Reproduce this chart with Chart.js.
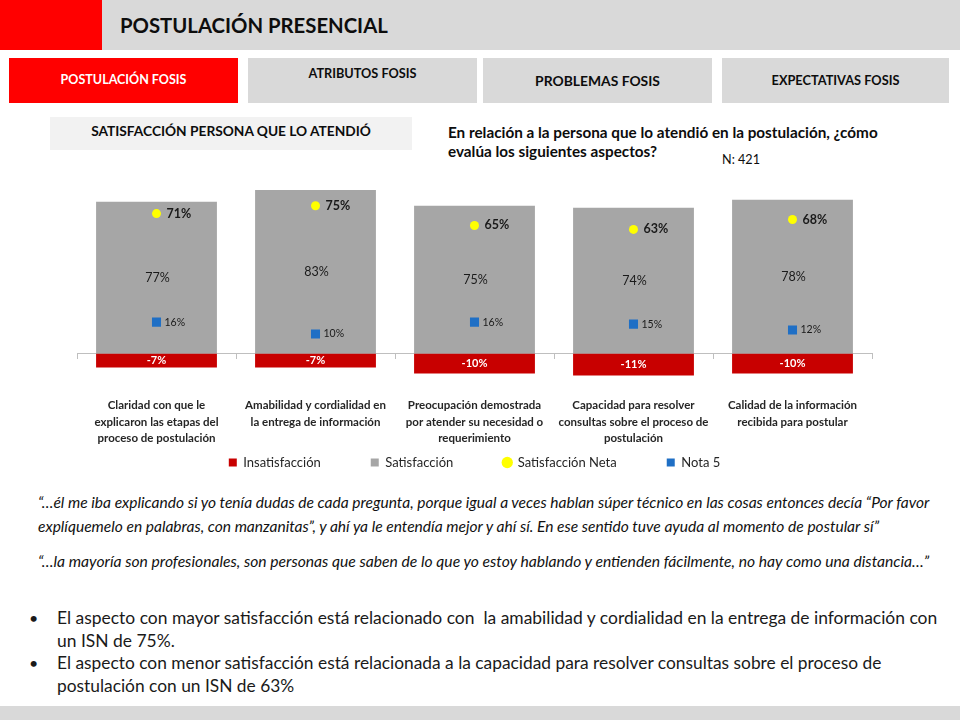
<!DOCTYPE html>
<html>
<head>
<meta charset="utf-8">
<script src="https://cdn.jsdelivr.net/npm/chart.js@4.4.1/dist/chart.umd.min.js"></script>
<style>
  html,body{margin:0;padding:0;}
  body{width:960px;height:720px;position:relative;overflow:hidden;background:#fff;font-family:Lato,"Noto Sans",sans-serif;color:#000;}
  .box{position:absolute;}
  .t{position:absolute;white-space:pre;line-height:1;transform:translateY(-50%);}
  .c{transform:translate(-50%,-50%);}
  .b{font-weight:bold;}
  .q{font-style:italic;font-weight:400;color:#111;}
  #chartWrap{position:absolute;left:0;top:150px;width:960px;height:329px;}
</style>
</head>
<body>
  <!-- header -->
  <div class="box" style="left:0;top:0;width:102px;height:50px;background:#ff0000;"></div>
  <div class="box" style="left:102px;top:0;width:858px;height:50px;background:#d9d9d9;"></div>
  <span class="t b" id="title" style="left:120px;top:25px;font-size:20px;color:#0d0d0d;">POSTULACIÓN PRESENCIAL</span>

  <!-- tabs -->
  <div class="box" style="left:9px;top:58px;width:229px;height:45px;background:#ff0000;"></div>
  <div class="box" style="left:248px;top:58px;width:229px;height:45px;background:#d9d9d9;"></div>
  <div class="box" style="left:483px;top:58px;width:229px;height:45px;background:#d9d9d9;"></div>
  <div class="box" style="left:722px;top:58px;width:227px;height:45px;background:#d9d9d9;"></div>
  <span class="t c b" id="tab1" style="left:123.5px;top:80px;font-size:12px;color:#fff;">POSTULACIÓN FOSIS</span>
  <span class="t c b" id="tab2" style="left:362.5px;top:73px;font-size:12px;color:#0d0d0d;">ATRIBUTOS FOSIS</span>
  <span class="t c b" id="tab3" style="left:597.5px;top:81px;font-size:13px;color:#0d0d0d;">PROBLEMAS FOSIS</span>
  <span class="t c b" id="tab4" style="left:835.5px;top:80px;font-size:12px;color:#0d0d0d;">EXPECTATIVAS FOSIS</span>

  <!-- subtitle & question -->
  <div class="box" style="left:50px;top:117px;width:362px;height:33px;background:#f2f2f2;"></div>
  <span class="t c b" id="sub" style="left:231px;top:131px;font-size:13px;color:#0d0d0d;">SATISFACCIÓN PERSONA QUE LO ATENDIÓ</span>
  <span class="t b" id="qa" style="left:448px;top:133px;font-size:13px;color:#0d0d0d;">En relación a la persona que lo atendió en la postulación, ¿cómo</span>
  <span class="t b" id="qb" style="left:448px;top:152px;font-size:13px;color:#0d0d0d;">evalúa los siguientes aspectos?</span>
  <span class="t" id="nn" style="left:722px;top:160px;font-size:11px;color:#0d0d0d;">N: 421</span>

  <!-- chart -->
  <div id="chartWrap"><canvas id="chart" width="960" height="329"></canvas></div>

  <!-- quotes -->
  <span class="t q" id="q1a" style="left:38px;top:503px;font-size:14px;">“…él me iba explicando si yo tenía dudas de cada pregunta, porque igual a veces hablan súper técnico en las cosas entonces decía “Por favor</span>
  <span class="t q" id="q1b" style="left:38px;top:527px;font-size:14px;">explíquemelo en palabras, con manzanitas”, y ahí ya le entendía mejor y ahí sí. En ese sentido tuve ayuda al momento de postular sí”</span>
  <span class="t q" id="q2" style="left:38px;top:562px;font-size:14px;">“…la mayoría son profesionales, son personas que saben de lo que yo estoy hablando y entienden fácilmente, no hay como una distancia…”</span>

  <!-- bullets -->
  <span class="t" style="left:29px;top:618px;font-size:16px;color:#1a1a1a;">•</span>
  <span class="t" style="left:29px;top:663px;font-size:16px;color:#1a1a1a;">•</span>
  <span class="t" id="b1a" style="left:57px;top:618px;font-size:16px;color:#1a1a1a;">El aspecto con mayor satisfacción está relacionado con  la amabilidad y cordialidad en la entrega de información con</span>
  <span class="t" id="b1b" style="left:57px;top:641px;font-size:16px;color:#1a1a1a;">un ISN de 75%.</span>
  <span class="t" id="b2a" style="left:57px;top:663px;font-size:16px;color:#1a1a1a;">El aspecto con menor satisfacción está relacionada a la capacidad para resolver consultas sobre el proceso de</span>
  <span class="t" id="b2b" style="left:57px;top:686px;font-size:16px;color:#1a1a1a;">postulación con un ISN de 63%</span>

  <!-- footer -->
  <div class="box" style="left:0;top:706px;width:960px;height:14px;background:#d9d9d9;"></div>

<script>
// ---------- data ----------
const categories = [
  ["Claridad con que le", "explicaron las etapas del", "proceso de postulación"],
  ["Amabilidad y cordialidad en", "la entrega de información"],
  ["Preocupación demostrada", "por atender su necesidad o", "requerimiento"],
  ["Capacidad para resolver", "consultas sobre el proceso de", "postulación"],
  ["Calidad de la información", "recibida para postular"]
];
const insatisfaccion   = [-7, -7, -10, -11, -10];
const satisfaccion     = [77, 83, 75, 74, 78];
const satisfaccionNeta = [71, 75, 65, 63, 68];
const nota5            = [16, 10, 16, 15, 12];
const seriesNames = ["Insatisfacción", "Satisfacción", "Satisfacción Neta", "Nota 5"];

// ---------- text width fitting (layout only) ----------
function fitWidth(id, target, others) {
  const el = document.getElementById(id);
  const w = el.getBoundingClientRect().width;
  const fs = parseFloat(getComputedStyle(el).fontSize);
  const nfs = fs * target / w;
  el.style.fontSize = nfs + 'px';
  (others || []).forEach(o => document.getElementById(o).style.fontSize = nfs + 'px');
}
fitWidth('title', 268);
fitWidth('tab1', 126);
fitWidth('tab2', 108);
fitWidth('tab3', 125);
fitWidth('tab4', 128);
fitWidth('sub', 280);
fitWidth('qa', 430, ['qb']);
fitWidth('nn', 38);
fitWidth('q1a', 892, ['q1b']);
fitWidth('q2', 892);
fitWidth('b1a', 881, ['b1b']);
fitWidth('b2a', 825, ['b2b']);

// ---------- chart ----------
Chart.defaults.font.family = 'Lato';
Chart.defaults.color = '#262626';

const RED = '#c80000', GRAY = '#a6a6a6', YEL = '#ffff00', BLUE = '#1f6fc5';

const valueLabels = {
  id: 'valueLabels',
  afterDatasetsDraw(chart) {
    const ctx = chart.ctx;
    ctx.save();
    ctx.textBaseline = 'middle';
    chart.data.datasets.forEach((ds, di) => {
      const meta = chart.getDatasetMeta(di);
      meta.data.forEach((el, j) => {
        const txt = ds.data[j] + '%';
        if (di === 0) {
          ctx.font = 'bold 11px Lato';
          ctx.fillStyle = '#ffffff';
          ctx.textAlign = 'center';
          ctx.fillText(txt, el.x, (el.y + el.base) / 2);
        } else if (di === 1) {
          ctx.font = '12.5px Lato';
          ctx.fillStyle = '#1a1a1a';
          ctx.textAlign = 'center';
          ctx.fillText(txt, el.x + 1, (el.y + el.base) / 2);
        } else if (di === 2) {
          ctx.font = 'bold 12.5px Lato';
          ctx.fillStyle = '#1a1a1a';
          ctx.textAlign = 'left';
          ctx.fillText(txt, el.x + 10, el.y);
        } else {
          ctx.font = '10.5px Lato';
          ctx.fillStyle = '#1a1a1a';
          ctx.textAlign = 'left';
          ctx.fillText(txt, el.x + 8, el.y);
        }
      });
    });
    ctx.restore();
  }
};

new Chart(document.getElementById('chart'), {
  type: 'bar',
  data: {
    labels: categories,
    datasets: [
      { label: seriesNames[0], data: insatisfaccion, backgroundColor: RED, pointStyle: 'rect', stack: 's', order: 2,
        barPercentage: 0.76, categoryPercentage: 1 },
      { label: seriesNames[1], data: satisfaccion, backgroundColor: GRAY, pointStyle: 'rect', stack: 's', order: 2,
        barPercentage: 0.76, categoryPercentage: 1 },
      { type: 'line', label: seriesNames[2], data: satisfaccionNeta, showLine: false, stack: 'neta', order: 1,
        pointStyle: 'circle', pointRadius: 4.5, pointHoverRadius: 4.5, borderWidth: 0, pointBorderWidth: 0,
        backgroundColor: YEL, pointBackgroundColor: YEL, borderColor: YEL },
      { type: 'line', label: seriesNames[3], data: nota5, showLine: false, stack: 'nota', order: 1,
        pointStyle: 'rect', pointRadius: 6.4, pointHoverRadius: 6.4, borderWidth: 0, pointBorderWidth: 0,
        backgroundColor: BLUE, pointBackgroundColor: BLUE, borderColor: BLUE }
    ]
  },
  options: {
    responsive: false,
    animation: false,
    layout: { padding: { left: 77, right: 88, top: 3, bottom: 0 } },
    plugins: {
      tooltip: { enabled: false },
      legend: {
        position: 'bottom',
        labels: {
          usePointStyle: true,
          boxWidth: 8, boxHeight: 8,
          padding: 50,
          color: '#262626',
          font: { size: 13, family: 'Lato' },
          sort: (a, b) => a.datasetIndex - b.datasetIndex
        }
      }
    },
    scales: {
      x: {
        stacked: true,
        position: { y: 0 },
        offset: true,
        grid: { display: true, drawOnChartArea: false, drawTicks: true, tickLength: 5, color: '#bfbfbf', offset: true },
        border: { display: true, color: '#bfbfbf', width: 1 },
        ticks: {
          autoSkip: false, maxRotation: 0, minRotation: 0, padding: 39,
          color: '#262626',
          font: { size: 11.5, weight: 'bold', family: 'Lato', lineHeight: 1.4 }
        }
      },
      y: { stacked: true, display: false, min: -26.5, max: 100 }
    }
  },
  plugins: [valueLabels]
});
</script>
</body>
</html>
